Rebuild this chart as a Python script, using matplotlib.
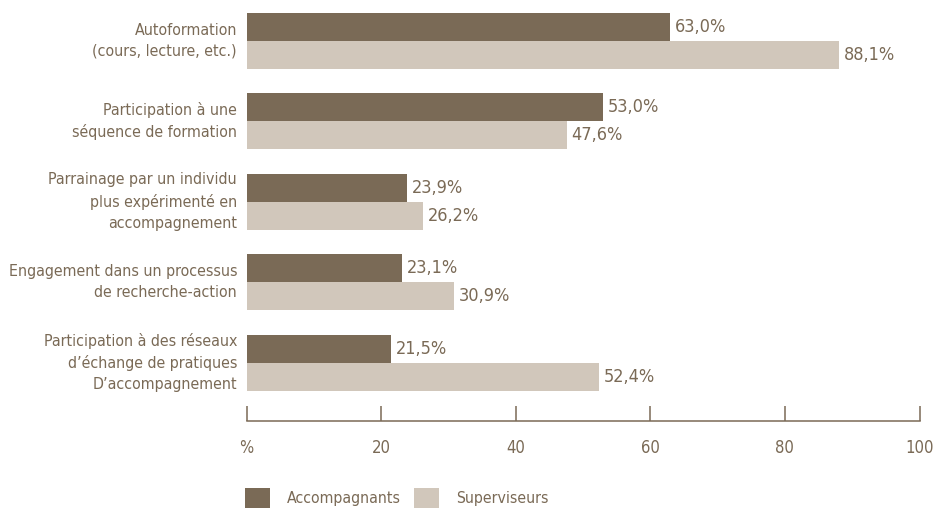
import numpy as np
import matplotlib
matplotlib.use("Agg")
import matplotlib.pyplot as plt
from matplotlib.patches import Patch

# data
categories = [
    "Autoformation\n(cours, lecture, etc.)",
    "Participation à une\nséquence de formation",
    "Parrainage par un individu\nplus expérimenté en\naccompagnement",
    "Engagement dans un processus\nde recherche-action",
    "Participation à des réseaux\nd’échange de pratiques\nD’accompagnement",
]
accompagnants = [63.0, 53.0, 23.9, 23.1, 21.5]
superviseurs = [88.1, 47.6, 26.2, 30.9, 52.4]
series_names = ["Accompagnants", "Superviseurs"]
x_ticks = [0, 20, 40, 60, 80, 100]
x_tick_labels = ["%", "20", "40", "60", "80", "100"]

DARK = "#7a6a56"
LIGHT = "#d1c7bb"
TEXT = "#7a6a56"

# condensed face is closest to the original's narrow type
plt.rcParams["font.family"] = ["DejaVu Sans"]
plt.rcParams["font.stretch"] = "condensed"

W, H = 934, 509
fig = plt.figure(figsize=(W / 100, H / 100), dpi=100)
ax = fig.add_axes([246.5 / W, 1 - 421 / H, (919.5 - 246.5) / W, 421 / H])

y = np.arange(len(categories))
h = 0.348
ax.barh(y - h / 2, accompagnants, height=h, color=DARK, linewidth=0)
ax.barh(y + h / 2, superviseurs, height=h, color=LIGHT, linewidth=0)

for yi, v in zip(y - h / 2, accompagnants):
    ax.annotate(f"{v:.1f}%".replace(".", ","), (v, yi), xytext=(3.3, 0),
                textcoords="offset points", va="center", ha="left",
                fontsize=13, color=TEXT)
for yi, v in zip(y + h / 2, superviseurs):
    ax.annotate(f"{v:.1f}%".replace(".", ","), (v, yi), xytext=(3.3, 0),
                textcoords="offset points", va="center", ha="left",
                fontsize=13, color=TEXT)

ax.set_xlim(0, 100)
ax.set_ylim(len(categories) - 1 + 0.724, -0.506)

ax.set_yticks(y, categories)
ax.tick_params(axis="y", length=0, pad=6.8, labelsize=11.4, labelcolor=TEXT)
for lbl in ax.get_yticklabels():
    lbl.set_va("center")
    lbl.set_ha("right")
    lbl.set_multialignment("right")
    lbl.set_linespacing(1.5)

ax.set_xticks(x_ticks, x_tick_labels)
ax.tick_params(axis="x", direction="in", length=10.5, width=1.1, pad=13,
               color=DARK, labelsize=12, labelcolor=TEXT)

for side in ["top", "right", "left"]:
    ax.spines[side].set_visible(False)
ax.spines["bottom"].set_color(DARK)
ax.spines["bottom"].set_linewidth(1.1)

handles = [Patch(facecolor=DARK, edgecolor="none"), Patch(facecolor=LIGHT, edgecolor="none")]
fig.legend(handles, series_names, loc="upper left",
           bbox_to_anchor=(245 / W, 1 - 488 / H), ncol=2, frameon=False,
           borderpad=0, borderaxespad=0, fontsize=11.3, labelcolor=TEXT,
           handlelength=1.59, handleheight=1.59, handletextpad=1.08,
           columnspacing=0.85)

fig.savefig("out.png", dpi=100)
